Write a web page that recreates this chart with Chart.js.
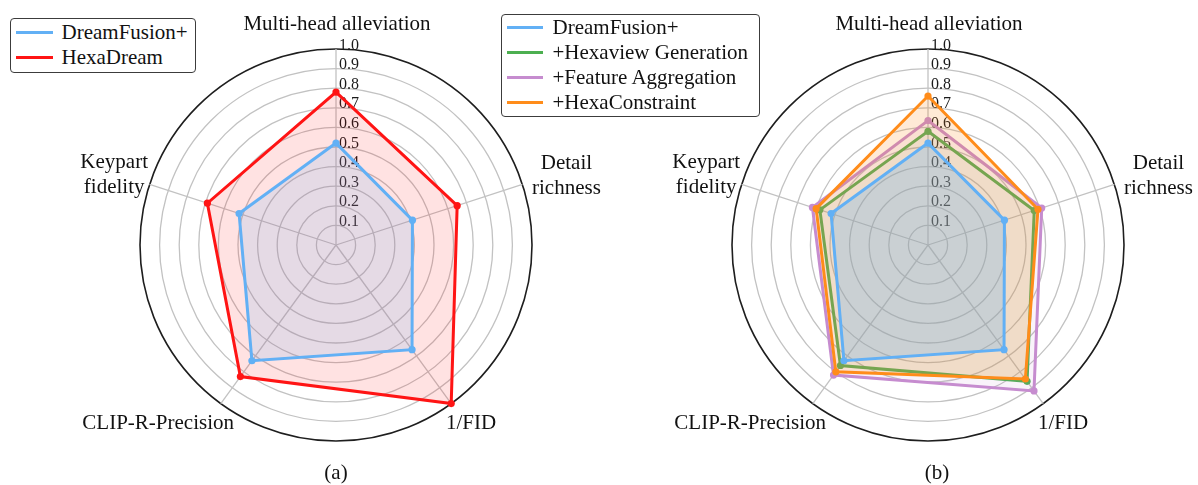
<!DOCTYPE html>
<html>
<head>
<meta charset="utf-8">
<script src="https://cdn.jsdelivr.net/npm/chart.js@4/dist/chart.umd.min.js"></script>
<style>
  html, body { margin: 0; padding: 0; background: #fff; }
  #wrap { position: relative; width: 1198px; height: 485px; overflow: hidden;
          font-family: 'Liberation Serif', 'Times New Roman', serif; color: #111; }
  #wrap canvas { position: absolute; left: 0; top: 0; }
  .legend { position: absolute; box-sizing: border-box; background: #fff;
            border: 1.5px solid #3c3c3c; border-radius: 4px; padding-left: 4.5px; }
  .row { display: flex; align-items: center; height: 25px; font-size: 21px; line-height: 25px; white-space: nowrap; }
  .swatch { height: 3.5px; flex: none; }
  .cap { position: absolute; font-size: 21px; transform: translate(-50%, -50%); }
</style>
</head>
<body>
<div id="wrap">
  <canvas id="chartA" width="1198" height="485"></canvas>
  <canvas id="chartB" width="1198" height="485"></canvas>
  <div class="legend" id="legendA" style="left:10px;top:18px;width:186px;height:55px;padding-top:1px;"></div>
  <div class="legend" id="legendB" style="left:501px;top:14px;width:259px;height:103px;padding-top:0px;"></div>
  <div class="cap" style="left:336px;top:472px;">(a)</div>
  <div class="cap" style="left:937px;top:472px;">(b)</div>
</div>
<script>
// Axes of both radar plots, clockwise from the top
const axes = ['Multi-head alleviation', 'Detail richness', '1/FID', 'CLIP-R-Precision', 'Keypart fidelity'];
const axisLines = [['Multi-head alleviation'], ['Detail', 'richness'], ['1/FID'], ['CLIP-R-Precision'], ['Keypart', 'fidelity']];
const ringValues = [0.1, 0.2, 0.3, 0.4, 0.5, 0.6, 0.7, 0.8, 0.9, 1.0];
const ringLabels = ['0.1', '0.2', '0.3', '0.4', '0.5', '0.6', '0.7', '0.8', '0.9', '1.0'];

// (a) baseline vs. full method
const dreamFusion = [0.52, 0.41, 0.66, 0.73, 0.52];
const hexaDream = [0.78, 0.65, 1.00, 0.83, 0.69];

// (b) ablation, components added one after another
const hexaviewGen = [0.58, 0.57, 0.86, 0.76, 0.58];
const featureAgg = [0.635, 0.61, 0.92, 0.82, 0.62];
const hexaConstraint = [0.76, 0.59, 0.845, 0.80, 0.60];

const names = ['DreamFusion+', 'HexaDream', '+Hexaview Generation', '+Feature Aggregation', '+HexaConstraint'];
const colors = {
  blue: '#62b0f5', red: '#ff1414', green: '#4caf50', purple: '#c68ccf', orange: '#ff8c1a'
};
const rgb = {
  blue: '98,176,245', red: '255,20,20', green: '76,175,80', purple: '198,140,207', orange: '255,140,26'
};

const FONT = "'Liberation Serif', 'Times New Roman', serif";

function series(label, data, key, order, alpha) {
  return {
    label, data, order,
    borderColor: colors[key], backgroundColor: 'rgba(' + rgb[key] + ',' + alpha + ')', fill: true,
    borderWidth: 3, borderJoinStyle: 'miter',
    pointRadius: 3.6, pointBackgroundColor: colors[key], pointBorderColor: colors[key], pointBorderWidth: 0
  };
}

// ring value labels, drawn to the right of the top spoke, under the data
const ringLabelPlugin = {
  id: 'ringLabels',
  beforeDatasetsDraw(chart) {
    const s = chart.scales.r, ctx = chart.ctx;
    ctx.save();
    ctx.font = '16px ' + FONT;
    ctx.fillStyle = '#1a1a1a';
    ctx.textAlign = 'left';
    ctx.textBaseline = 'alphabetic';
    ringValues.forEach((v, i) => {
      const d = s.getDistanceFromCenterForValue(v);
      ctx.fillText(ringLabels[i], s.xCenter + 3, s.yCenter - d + 0.5);
    });
    ctx.restore();
  }
};

// axis titles around the outer ring
const axisTitlePlugin = {
  id: 'axisTitles',
  afterDraw(chart) {
    const s = chart.scales.r, ctx = chart.ctx;
    const cx = s.xCenter, cy = s.yCenter, R = s.drawingArea;
    const lh = 25;
    // anchor: [x, yMid, side] where side tells which edge x refers to
    const place = [
      [cx + 1, cy - R - 26, 'center'],
      [cx + R + 0, cy - 70, 'left'],
      [cx + 110, cy + 177, 'left'],
      [cx - 102, cy + 177, 'right'],
      [cx - 188, cy - 71, 'right']
    ];
    ctx.save();
    ctx.font = '21px ' + FONT;
    ctx.fillStyle = '#111';
    ctx.textBaseline = 'middle';
    ctx.textAlign = 'center';
    axisLines.forEach((lines, i) => {
      const [x, yMid, side] = place[i];
      const w = Math.max(...lines.map(t => ctx.measureText(t).width));
      let mid = x;
      if (side === 'left') mid = x + w / 2;
      if (side === 'right') mid = x - w / 2;
      const top = yMid - (lines.length - 1) * lh / 2;
      lines.forEach((t, k) => ctx.fillText(t, mid, top + k * lh + 1));
    });
    ctx.restore();
  }
};

function radarOptions(padding) {
  return {
    responsive: false,
    animation: false,
    layout: { padding },
    plugins: { legend: { display: false }, tooltip: { enabled: false } },
    scales: {
      r: {
        min: 0, max: 1,
        ticks: { stepSize: 0.1, display: false },
        pointLabels: { display: false },
        grid: {
          circular: true,
          color: c => (c.tick && c.tick.value > 0.999) ? '#1e1e1e' : '#c2c2c2',
          lineWidth: c => (c.tick && c.tick.value > 0.999) ? 1.6 : 1.3
        },
        angleLines: { color: '#c2c2c2', lineWidth: 1.3 }
      }
    }
  };
}

const R = 196;
new Chart(document.getElementById('chartA'), {
  type: 'radar',
  data: {
    labels: axes,
    datasets: [
      series(names[0], dreamFusion, 'blue', 0, 0.17),
      series(names[1], hexaDream, 'red', 1, 0.12)
    ]
  },
  options: radarOptions({ left: 336 - R, right: 1198 - 336 - R, top: 245 - R, bottom: 485 - 245 - R }),
  plugins: [ringLabelPlugin, axisTitlePlugin]
});

new Chart(document.getElementById('chartB'), {
  type: 'radar',
  data: {
    labels: axes,
    datasets: [
      series(names[0], dreamFusion, 'blue', 0, 0.27),
      series(names[2], hexaviewGen, 'green', 3, 0.08),
      series(names[3], featureAgg, 'purple', 2, 0.1),
      series(names[4], hexaConstraint, 'orange', 1, 0.18)
    ]
  },
  options: radarOptions({ left: 928 - R, right: 1198 - 928 - R, top: 245 - R, bottom: 485 - 245 - R }),
  plugins: [ringLabelPlugin, axisTitlePlugin]
});

// legends built from the same series names and colours
function buildLegend(id, entries, swatchW, gap) {
  const box = document.getElementById(id);
  entries.forEach(([name, key]) => {
    const row = document.createElement('div');
    row.className = 'row';
    const sw = document.createElement('span');
    sw.className = 'swatch';
    sw.style.width = swatchW + 'px';
    sw.style.marginRight = gap + 'px';
    sw.style.background = colors[key];
    const tx = document.createElement('span');
    tx.textContent = name;
    row.appendChild(sw);
    row.appendChild(tx);
    box.appendChild(row);
  });
}
buildLegend('legendA', [[names[0], 'blue'], [names[1], 'red']], 37, 9);
buildLegend('legendB', [[names[0], 'blue'], [names[2], 'green'], [names[3], 'purple'], [names[4], 'orange']], 36, 10);
</script>
</body>
</html>
